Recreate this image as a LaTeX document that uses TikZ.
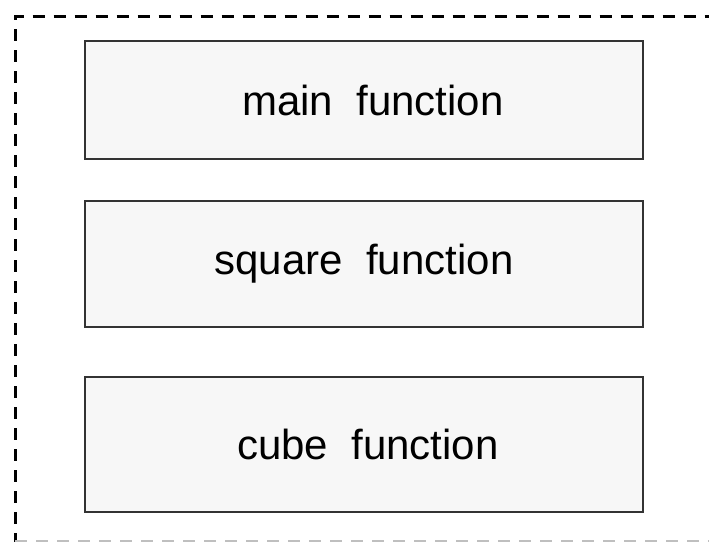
\documentclass[tikz,border=0pt]{standalone}
\usepackage{fontspec}
\setmainfont{Liberation Sans}
\usetikzlibrary{positioning}
\tikzset{funcbox/.style={draw=black!80,line width=1.6pt,fill=black!3,minimum width=558pt,inner sep=0pt,font=\fontsize{42}{50}\selectfont}}

\begin{document}
\begin{tikzpicture}[line cap=butt,line join=miter,x=1pt,y=-1pt]
\useasboundingbox (0,0) rectangle (709,541);
\clip (0,0) rectangle (709,541);
\draw [line width=3pt,dash pattern=on 12pt off 9pt,dash phase=3pt] (15,541.5) -- (15,16) -- (760,16);
\draw [line width=3pt,black!25,dash pattern=on 12pt off 9pt] (15,541.5) -- (760,541.5);
\node [funcbox,minimum height=118pt] (main) at (364,100) {\hspace*{18pt}main\ \ function};
\node [funcbox,minimum height=126pt] (square) at (364,264) {square\ \ function};
\node [funcbox,minimum height=135pt] (cube) at (364,444.5) {\hspace*{8pt}cube\ \ function};
\end{tikzpicture}
\end{document}
